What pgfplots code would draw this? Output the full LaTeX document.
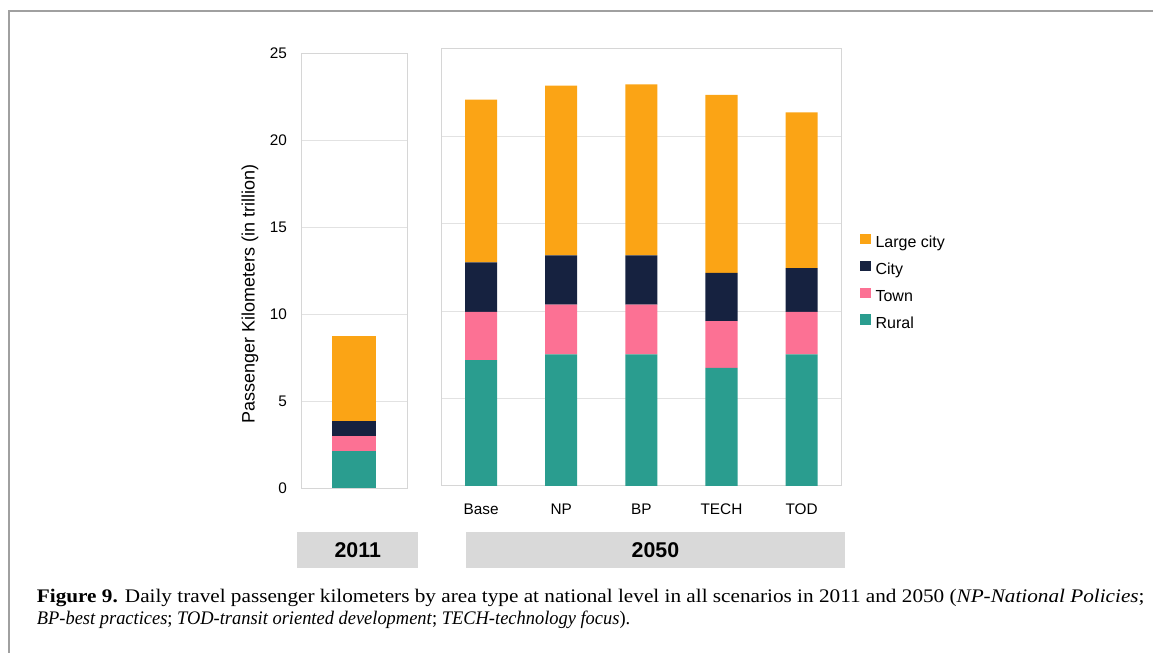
\documentclass[border=0pt]{standalone}
\usepackage{pgfplots}
\usepackage{pgfplotstable}
\pgfplotsset{compat=1.18}
\usepackage{fontspec}
\setmainfont{Liberation Sans}
\newfontfamily\capfont{Liberation Serif}

\definecolor{largecity}{RGB}{251,164,21}
\definecolor{city}{RGB}{22,34,64}
\definecolor{town}{RGB}{252,113,148}
\definecolor{rural}{RGB}{42,157,143}
\definecolor{gridgray}{RGB}{226,226,226}
\definecolor{framegray}{RGB}{214,214,214}
\definecolor{boxgray}{RGB}{217,217,217}
\definecolor{pagegray}{RGB}{160,160,160}

% passenger kilometres (trillion) by area type
\pgfplotstableread{
x rural town city large
0 2.14 0.87 0.86 4.88
}\pkmA

\pgfplotstableread{
x rural town city large
0 7.20 2.76 2.84 9.31
1 7.53 2.85 2.82 9.71
2 7.53 2.85 2.82 9.77
3 6.76 2.67 2.76 10.19
4 7.53 2.43 2.50 8.91
}\pkmB

\pgfplotsset{
  panel/.style={
    scale only axis,
    ybar stacked,
    ymin=0, ymax=25,
    ytick={0,5,...,25},
    ymajorgrids,
    grid style={gridgray, line width=0.75pt},
    axis line style={framegray, line width=0.75pt},
    major tick length=0pt,
    tick label style={font=\fontsize{11.5}{13}\selectfont},
    /pgf/number format/assume math mode=true,
    clip=false,
  },
  sq legend/.style={legend image code/.code={\fill[##1] (0pt,-0.3pt) rectangle (8pt,7.7pt);}},
}

\begin{document}
\begin{tikzpicture}
\path[use as bounding box] (0,0) rectangle (864.75pt,489.75pt);

% page frame
\draw[pagegray, line width=1pt] (6.75pt,0pt) -- (6.75pt,481.5pt) -- (864.75pt,481.5pt);

% 2011
\begin{axis}[panel,
  at={(225.75pt,123.5pt)}, anchor=south west,
  width=79.5pt, height=326.25pt,
  xmin=-0.5, xmax=0.5, xtick=\empty,
  bar width=0.41,
  yticklabel style={xshift=-7pt},
  ylabel={Passenger Kilometers (in trillion)},
  ylabel style={at={(axis description cs:-0.481,0.447)}, anchor=center,
    font=\fontsize{13.5}{15}\selectfont},
]
\addplot[fill=rural, draw=none] table[x=x, y=rural] {\pkmA};
\addplot[fill=town, draw=none] table[x=x, y=town] {\pkmA};
\addplot[fill=city, draw=none] table[x=x, y=city] {\pkmA};
\addplot[fill=largecity, draw=none] table[x=x, y=large] {\pkmA};
\end{axis}

% 2050 scenarios
\begin{axis}[panel,
  at={(330.75pt,125.25pt)}, anchor=south west,
  width=300.5pt, height=327.75pt,
  xmin=-0.5, xmax=4.5,
  xtick={0,...,4}, xticklabels={Base,NP,BP,TECH,TOD},
  xticklabel style={yshift=-9.75pt},
  yticklabels={},
  bar width=0.4,
  reverse legend,
  legend style={at={(axis description cs:1.0457,0.578)}, anchor=north west,
    draw=none, fill=none, inner sep=0pt, row sep=7pt,
    font=\fontsize{12}{14}\selectfont,
    nodes={text height=8.5pt, text depth=2.5pt, inner ysep=0pt, inner xsep=3.5pt}},
  legend cell align=left,
]
\addplot[fill=rural, draw=none, sq legend] table[x=x, y=rural] {\pkmB};
\addlegendentry{Rural}
\addplot[fill=town, draw=none, sq legend] table[x=x, y=town] {\pkmB};
\addlegendentry{Town}
\addplot[fill=city, draw=none, sq legend] table[x=x, y=city] {\pkmB};
\addlegendentry{City}
\addplot[fill=largecity, draw=none, sq legend] table[x=x, y=large] {\pkmB};
\addlegendentry{Large city}
\end{axis}

% year bands
\fill[boxgray] (223.1pt,64pt) rectangle (313.5pt,90.5pt);
\fill[boxgray] (349.5pt,64pt) rectangle (633.75pt,90.5pt);
\node[font=\bfseries\fontsize{16}{18}\selectfont] at (268.3pt,77.25pt) {2011};
\node[font=\bfseries\fontsize{16}{18}\selectfont] at (491.6pt,77.25pt) {2050};

% caption
\node[anchor=base west, inner sep=0pt, font=\capfont\fontsize{14.4}{17}\selectfont] at (27.5pt,37.5pt)
  {\scalebox{1.105}[1]{\textbf{Figure 9.} Daily travel passenger kilometers by area type at national level in all scenarios in 2011 and 2050 (\textit{NP-National Policies};}};
\node[anchor=base west, inner sep=0pt, font=\capfont\fontsize{14.4}{17}\selectfont] at (27.5pt,21pt)
  {\scalebox{0.96}[1]{\textit{BP-best practices}; \textit{TOD-transit oriented development}; \textit{TECH-technology focus}).}};
\end{tikzpicture}
\end{document}
